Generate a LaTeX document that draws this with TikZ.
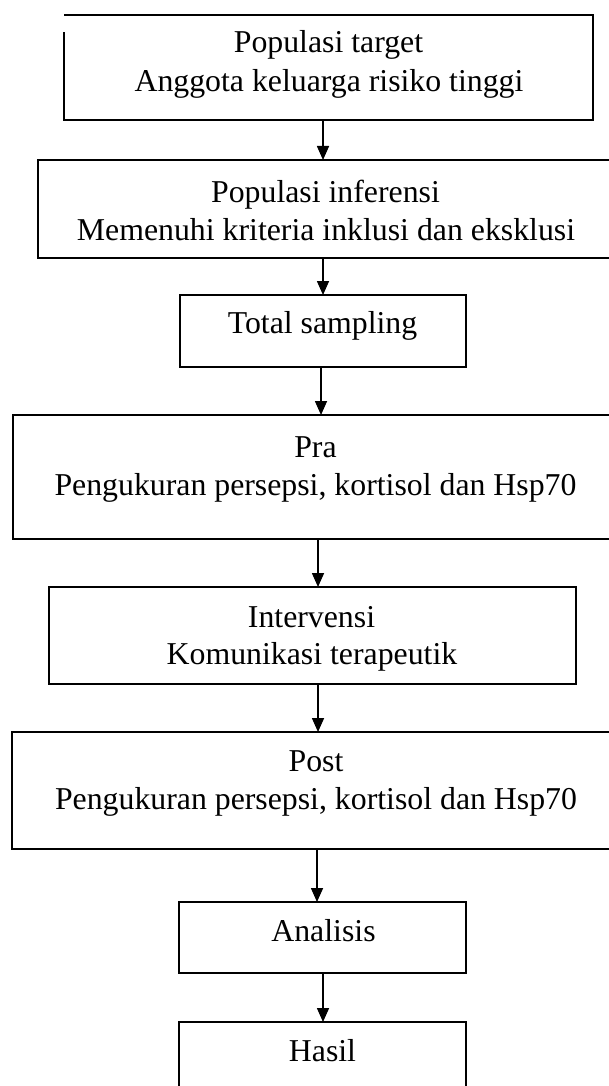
\documentclass[tikz,border=0pt]{standalone}
\usepackage{fontspec}
\setmainfont{Liberation Serif}
\usetikzlibrary{arrows.meta}
\begin{document}
\begin{tikzpicture}[x=1pt, y=-1pt,
  frame/.style={line width=1.8pt, inner sep=0pt, outer sep=0pt},
  box/.style={frame, draw=black},
  txt/.style={anchor=base, inner sep=0pt, font=\fontsize{31.8}{38}\selectfont},
  arr/.style={line width=1.6pt, -{Triangle[length=14pt,width=12pt]}}]
\useasboundingbox[fill=white] (0,0) rectangle (609,1086);

% boxes of the flow
\node[frame, minimum width=529pt, minimum height=105pt] (b1) at (328.5,67.5) {};
\node[box, minimum width=574pt, minimum height=98pt]  (b2) at (325,209) {};
\node[box, minimum width=286pt, minimum height=72pt]  (b3) at (323,331) {};
\node[box, minimum width=606pt, minimum height=124pt] (b4) at (316,477) {};
\node[box, minimum width=527pt, minimum height=97pt]  (b5) at (312.5,635.5) {};
\node[box, minimum width=608pt, minimum height=117pt] (b6) at (316,790.5) {};
\node[box, minimum width=287pt, minimum height=71pt]  (b7) at (322.5,937.5) {};
\node[box, minimum width=287pt, minimum height=73pt]  (b8) at (322.5,1058.5) {};

% first box: left side starts a little below the top line
\draw[line width=1.8pt] (b1.north west) -- (b1.north east) -- (b1.south east)
  -- (b1.south west) -- ([yshift=-17pt]b1.north west);

% labels
\node[txt] (t1a) at (328.5,53) {Populasi target};
\node[txt] (t1b) at (329,92) {Anggota keluarga risiko tinggi};
\node[txt] (t2a) at (325.5,202) {Populasi inferensi};
\node[txt] (t2b) at (326,240) {Memenuhi kriteria inklusi dan eksklusi};
\node[txt] (t3)  at (322.5,333) {Total sampling};
\node[txt] (t4a) at (315.5,457) {Pra};
\node[txt] (t4b) at (315.5,495) {Pengukuran persepsi, kortisol dan Hsp70};
\node[txt] (t5a) at (311.5,627) {Intervensi};
\node[txt] (t5b) at (312,664) {Komunikasi terapeutik};
\node[txt] (t6a) at (316,771) {Post};
\node[txt] (t6b) at (316,809) {Pengukuran persepsi, kortisol dan Hsp70};
\node[txt] (t7)  at (323.5,941) {Analisis};
\node[txt] (t8)  at (322.5,1061) {Hasil};

% arrow columns
\coordinate (c1) at (323,0);
\coordinate (c2) at (323,0);
\coordinate (c3) at (321,0);
\coordinate (c4) at (318,0);
\coordinate (c5) at (318,0);
\coordinate (c6) at (317,0);
\coordinate (c7) at (323,0);

\draw[arr] (b1.south -| c1) -- (b2.north -| c1);
\draw[arr] (b2.south -| c2) -- (b3.north -| c2);
\draw[arr] (b3.south -| c3) -- (b4.north -| c3);
\draw[arr] (b4.south -| c4) -- (b5.north -| c4);
\draw[arr] (b5.south -| c5) -- (b6.north -| c5);
\draw[arr] (b6.south -| c6) -- (b7.north -| c6);
\draw[arr] (b7.south -| c7) -- (b8.north -| c7);
\end{tikzpicture}
\end{document}
